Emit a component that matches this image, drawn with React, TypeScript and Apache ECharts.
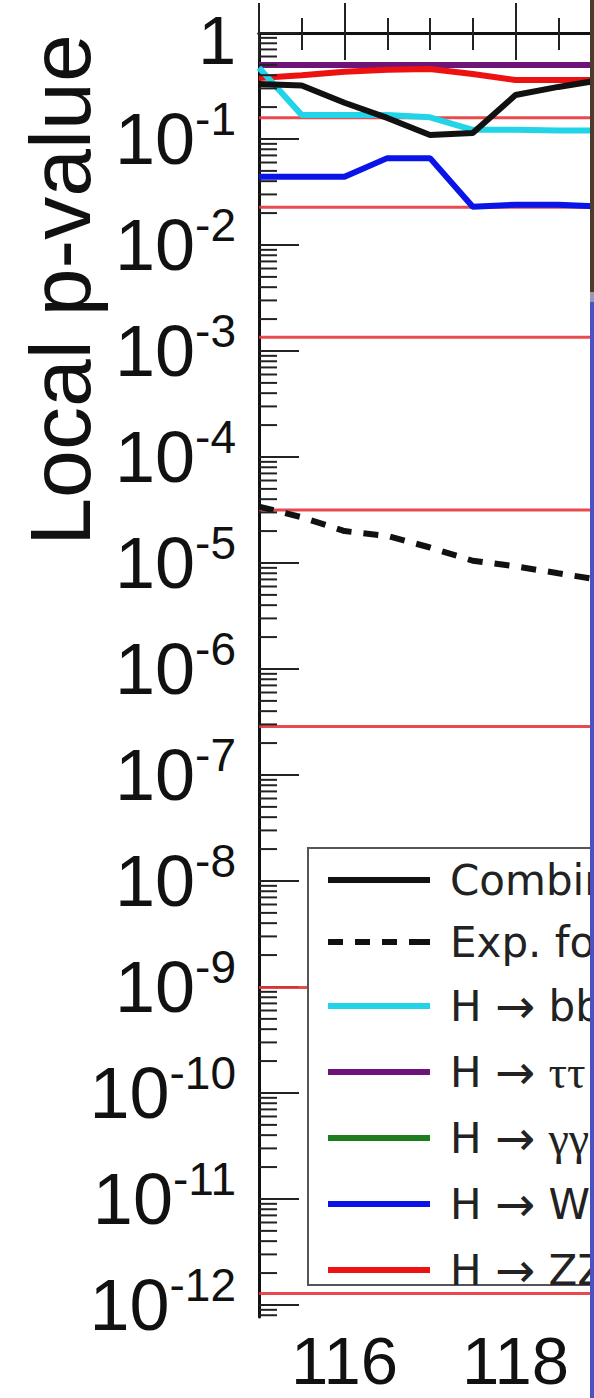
import React, { useEffect, useRef } from "react";
import * as echarts from "echarts";

// ---- data ----
const massPoints = [115, 115.5, 116, 116.5, 117, 117.5, 118, 118.5, 119];
const combinedObs = [0.33, 0.32, 0.22, 0.158, 0.109, 0.114, 0.26, 0.31, 0.36];
const expectedSM = [3.4e-5, 2.7e-5, 2.0e-5, 1.8e-5, 1.4e-5, 1.05e-5, 9.3e-6, 8.0e-6, 6.9e-6];
const hbb = [0.47, 0.168, 0.168, 0.168, 0.16, 0.122, 0.122, 0.12, 0.12];
const htautau = [0.5, 0.5, 0.5, 0.5, 0.5, 0.5, 0.5, 0.5, 0.5];
const hgammagamma = [0.5, 0.5, 0.5, 0.5, 0.5, 0.5, 0.5, 0.5, 0.5];
const hww = [0.044, 0.044, 0.044, 0.066, 0.066, 0.023, 0.024, 0.024, 0.023];
const hzz = [0.376, 0.4, 0.43, 0.45, 0.457, 0.41, 0.36, 0.36, 0.36];

// one-sided p-values of 1..7 sigma (red reference lines)
const sigmaLevels = [0.1587, 0.02275, 1.35e-3, 3.17e-5, 2.87e-7, 9.87e-10, 1.28e-12];

// axis ranges / tick labels
const xMin = 115;
const xMax = 120;
const yMin = 7.7e-13;
const yMax = 1;
const yDecadeLabels = ["1", "10-1", "10-2", "10-3", "10-4", "10-5", "10-6", "10-7", "10-8", "10-9", "10-10", "10-11", "10-12"];
const minorMultipliers = [2, 3, 4, 5, 6, 7, 8, 9];
const legendNames = ["Combined obs.", "Exp. for SM H", "H \u2192 bb", "H \u2192 \u03c4\u03c4", "H \u2192 \u03b3\u03b3", "H \u2192 WW", "H \u2192 ZZ"];

const FONT = "'Liberation Sans', Arial, Helvetica, sans-serif";
const LEGFONT = "'DejaVu Sans', 'Liberation Sans', sans-serif";
const SERIF = "'Liberation Serif', 'DejaVu Serif', serif";
const ARROWFONT = "'DejaVu Sans', sans-serif";

export default function App() {
  const ref = useRef<HTMLDivElement>(null);

  useEffect(() => {
    const chart = echarts.init(ref.current!, null, { renderer: "svg" });
    const pairs = (ys: number[]) => massPoints.map((x, i) => [x, ys[i]]);
    const decadeSpan = Math.log10(yMax) - Math.log10(yMin);

    const minorTicks: number[][] = [];
    for (let n = -13; n <= -1; n++) {
      minorMultipliers.forEach((k) => {
        const v = k * Math.pow(10, n);
        if (v > yMin && v < yMax) minorTicks.push([xMin, v]);
      });
    }

    const solidIcon = "path://M0,0H102V6H0Z";
    const dashIcon = "path://M0,0H15V6H0Z M27,0H42V6H27Z M54,0H69V6H54Z M81,0H102V6H81Z";

    const lineSeries = (name: string, ys: number[], color: string, extra: any = {}) => ({
      type: "line",
      name,
      data: pairs(ys),
      xAxisIndex: 0,
      yAxisIndex: 0,
      symbol: "none",
      lineStyle: { color, width: 6, ...(extra.lineStyle || {}) },
      itemStyle: { color },
      silent: true,
      z: 5,
      ...extra,
    });

    const legendFormatter = (name: string) => {
      if (name.indexOf("H \u2192 ") === 0) {
        const rest = name.slice(4);
        const greek = /[\u03b3\u03c4]/.test(rest);
        return "{t|H }{a|\u2192}{t| }" + (greek ? "{g|" + rest + "}" : "{t|" + rest + "}");
      }
      return "{t|" + name + "}";
    };

    const option: any = {
      animation: false,
      backgroundColor: "#ffffff",
      grid: { left: 259, top: 33, width: 427.5, height: 1284, containLabel: false, outerBoundsMode: "none" },
      xAxis: [
        {
          type: "value",
          position: "bottom",
          min: xMin,
          max: xMax,
          splitNumber: 3,
          axisLine: { show: true, lineStyle: { color: "#111", width: 3 } },
          axisTick: { show: true, inside: true, length: 30, lineStyle: { color: "#222", width: 2 } },
          minorTick: { show: true, splitNumber: 4, length: 15, lineStyle: { color: "#222", width: 2 } },
          axisLabel: {
            show: true,
            showMinLabel: false,
            showMaxLabel: false,
            margin: 15,
            fontSize: 67,
            lineHeight: 56,
            color: "#111",
            fontFamily: FONT,
          },
          splitLine: { show: false },
        },
        {
          type: "value",
          position: "top",
          min: xMin,
          max: xMax,
          splitNumber: 3,
          axisLine: { show: true, lineStyle: { color: "#111", width: 3 } },
          axisTick: { show: true, inside: true, length: 27, lineStyle: { color: "#222", width: 2 } },
          minorTick: { show: true, splitNumber: 4, length: 17, lineStyle: { color: "#222", width: 2 } },
          axisLabel: { show: false },
          splitLine: { show: false },
        },
      ],
      yAxis: [
        {
          type: "log",
          position: "left",
          min: yMin,
          max: yMax,
          axisLine: { show: true, lineStyle: { color: "#111", width: 3 } },
          axisTick: { show: false },
          axisLabel: { show: false },
          splitLine: { show: false },
          minorTick: { show: false },
        },
        {
          type: "value",
          position: "left",
          inverse: true,
          min: 0,
          max: decadeSpan,
          interval: 1,
          axisLine: { show: false },
          axisTick: { show: true, inside: true, length: 40, lineStyle: { color: "#222", width: 2 } },
          splitLine: { show: false },
          axisLabel: {
            show: true,
            showMaxLabel: false,
            margin: 23,
            formatter: (v: number) => {
              const lab = yDecadeLabels[Math.round(v)];
              if (lab === undefined) return "";
              if (lab === "1") return "{o|1}";
              return "{b|10}{s|" + lab.slice(2) + "}";
            },
            rich: {
              o: { fontSize: 68, lineHeight: 56, padding: [14, 0, 0, 0], color: "#111", fontFamily: FONT },
              b: { fontSize: 72, lineHeight: 86, color: "#111", fontFamily: FONT },
              s: { fontSize: 46, lineHeight: 46, verticalAlign: "top", color: "#111", fontFamily: FONT },
            },
          },
        },
      ],
      legend: {
        left: 308,
        top: 848,
        orient: "vertical",
        padding: [10, 20, 10, 20],
        itemWidth: 102,
        itemHeight: 44,
        itemGap: 18,
        z: 20,
        symbolKeepAspect: true,
        selectedMode: false,
        formatter: legendFormatter,
        textStyle: {
          fontSize: 42,
          lineHeight: 44,
          fontFamily: LEGFONT,
          color: "#222",
          padding: [0, 0, 0, 15],
          rich: {
            t: { fontSize: 42, lineHeight: 44, fontFamily: LEGFONT, color: "#222" },
            a: { fontSize: 48, lineHeight: 44, fontFamily: ARROWFONT, color: "#222" },
            g: { fontSize: 46, lineHeight: 44, fontFamily: SERIF, color: "#222" },
          },
        },
        data: legendNames.map((n, i) => ({ name: n, icon: i === 1 ? dashIcon : solidIcon })),
      },
      series: [
        {
          type: "custom",
          name: "sigmaLines",
          xAxisIndex: 0,
          yAxisIndex: 0,
          silent: true,
          z: 1,
          data: sigmaLevels.map((v) => [xMin, v]),
          renderItem: (params: any, api: any) => {
            const a = api.coord([xMin, api.value(1)]);
            const b = api.coord([xMax, api.value(1)]);
            return {
              type: "line",
              shape: { x1: a[0], y1: a[1], x2: b[0], y2: b[1] },
              style: { stroke: "#e8363a", lineWidth: 3, opacity: 0.9 },
            };
          },
        },
        lineSeries(legendNames[4], hgammagamma, "#1e7d1e"),
        lineSeries(legendNames[3], htautau, "#6c1477"),
        lineSeries(legendNames[6], hzz, "#ee1111"),
        lineSeries(legendNames[2], hbb, "#22d4e8"),
        lineSeries(legendNames[5], hww, "#0a14e8"),
        lineSeries(legendNames[1], expectedSM, "#111111", { lineStyle: { type: [15, 12], width: 6 } }),
        lineSeries(legendNames[0], combinedObs, "#111111"),
        {
          type: "custom",
          name: "minorTicks",
          xAxisIndex: 0,
          yAxisIndex: 0,
          silent: true,
          clip: false,
          z: 6,
          data: minorTicks,
          renderItem: (params: any, api: any) => {
            const p = api.coord([api.value(0), api.value(1)]);
            return {
              type: "line",
              shape: { x1: p[0], y1: p[1], x2: p[0] + 18, y2: p[1] },
              style: { stroke: "#222", lineWidth: 2 },
            };
          },
        },
      ],
      graphic: [
        {
          type: "text",
          x: 60,
          y: 290,
          rotation: Math.PI / 2,
          style: {
            text: "Local p-value",
            fontSize: 86,
            fontFamily: FONT,
            fill: "#111",
            align: "center",
            verticalAlign: "middle",
          },
        },
        {
          type: "rect",
          z: 8,
          shape: { x: 308, y: 848, width: 420, height: 437 },
          style: { fill: "#ffffff", stroke: "#555", lineWidth: 2 },
        },
        { type: "rect", z: 100, shape: { x: 590, y: 0, width: 4, height: 292 }, style: { fill: "#4a3b2a" } },
        { type: "rect", z: 100, shape: { x: 590, y: 292, width: 4, height: 10 }, style: { fill: "#9a98b4" } },
        { type: "rect", z: 100, shape: { x: 590, y: 302, width: 4, height: 1096 }, style: { fill: "#4b50c3" } },
      ],
    };

    chart.setOption(option);
    return () => chart.dispose();
  }, []);

  return (
    <div
      ref={ref}
      style={{ position: "absolute", left: 0, top: 0, width: 594, height: 1398, background: "#fff" }}
    />
  );
}
